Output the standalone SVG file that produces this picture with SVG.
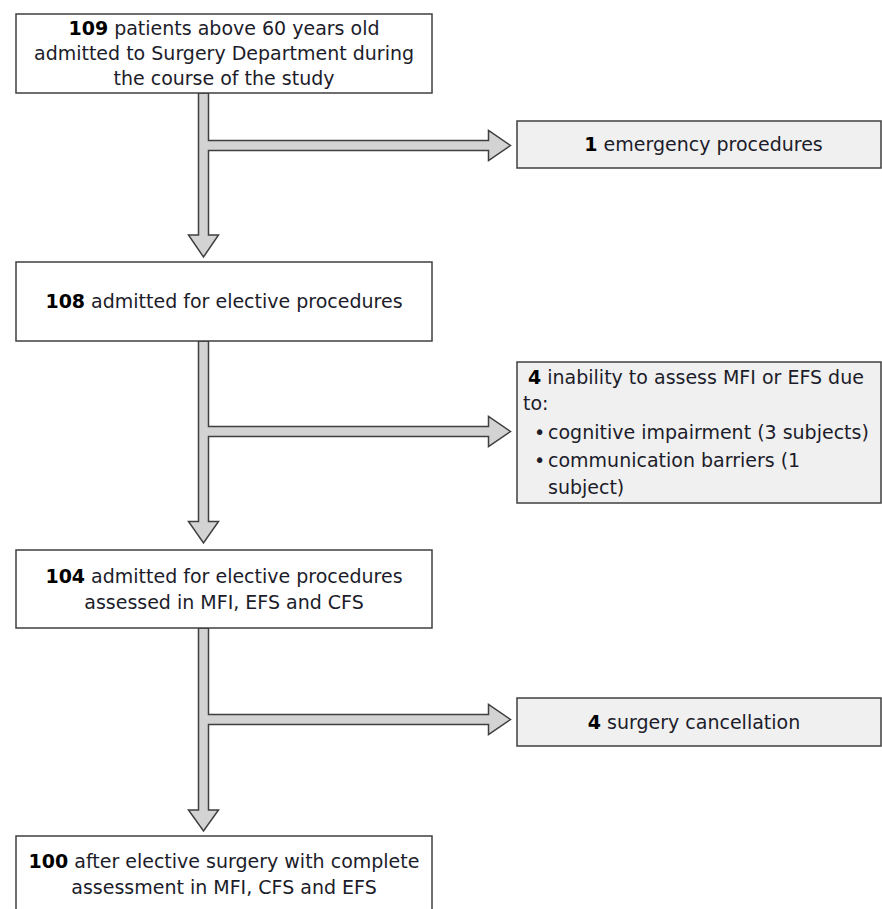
<svg xmlns="http://www.w3.org/2000/svg" width="882" height="909" viewBox="0 0 882 909">
<style>
.box{fill:#ffffff;stroke:#3f3f3f;stroke-width:1.5}
.side{fill:#f0f0f0;stroke:#3f3f3f;stroke-width:1.5}
.arrow{fill:#d3d3d3;stroke:#3f3f3f;stroke-width:1.5;stroke-linejoin:miter}
text{font-family:"DejaVu Sans","Liberation Sans",sans-serif;font-size:19px;fill:#1c1c2a}
.c{text-anchor:middle}
.b{font-weight:bold;fill:#000}
</style>
<rect width="882" height="909" fill="#ffffff"/>
<g id="connectors">
<path class="arrow" d="M198.5,93 L198.5,235 L188.5,235 L203.5,257 L218.5,235 L208.5,235 L208.5,150.5 L488.5,150.5 L488.5,160.5 L510.5,145.5 L488.5,130.5 L488.5,140.5 L208.5,140.5 L208.5,93 Z"/>
<path class="arrow" d="M198.5,341 L198.5,521.5 L188.5,521.5 L203.5,543 L218.5,521.5 L208.5,521.5 L208.5,436.5 L488.5,436.5 L488.5,446.5 L510.5,431.5 L488.5,416.5 L488.5,426.5 L208.5,426.5 L208.5,341 Z"/>
<path class="arrow" d="M198.5,628 L198.5,810 L188.5,810 L203.5,831 L218.5,810 L208.5,810 L208.5,724.5 L488.5,724.5 L488.5,734.5 L510.5,719.5 L488.5,704.5 L488.5,714.5 L208.5,714.5 L208.5,628 Z"/>
</g>
<g id="n109">
<rect class="box" x="16" y="14" width="416" height="79"/>
<text class="c" x="224" y="34.5"><tspan class="b">109</tspan> patients above 60 years old</text>
<text class="c" x="224" y="59.5">admitted to Surgery Department during</text>
<text class="c" x="224" y="84.5">the course of the study</text>
</g>
<g id="n1">
<rect class="side" x="517" y="121" width="364" height="47"/>
<text class="c" x="703.5" y="150.5"><tspan class="b">1</tspan> emergency procedures</text>
</g>
<g id="n108">
<rect class="box" x="16" y="262" width="416" height="79"/>
<text class="c" x="224" y="308"><tspan class="b">108</tspan> admitted for elective procedures</text>
</g>
<g id="n4a">
<rect class="side" x="517" y="362" width="364" height="141"/>
<text x="528" y="384"><tspan class="b">4</tspan> inability to assess MFI or EFS due</text>
<text x="523" y="410">to:</text>
<text x="534" y="439">•</text>
<text x="548" y="439">cognitive impairment (3 subjects)</text>
<text x="534" y="467">•</text>
<text x="548" y="467">communication barriers (1</text>
<text x="548" y="494">subject)</text>
</g>
<g id="n104">
<rect class="box" x="16" y="550" width="416" height="78"/>
<text class="c" x="224" y="583"><tspan class="b">104</tspan> admitted for elective procedures</text>
<text class="c" x="224" y="608.5">assessed in MFI, EFS and CFS</text>
</g>
<g id="n4b">
<rect class="side" x="517" y="698" width="364" height="48"/>
<text class="c" x="694" y="729"><tspan class="b">4</tspan> surgery cancellation</text>
</g>
<g id="n100">
<rect class="box" x="16" y="836" width="416" height="100"/>
<text class="c" x="224" y="868"><tspan class="b">100</tspan> after elective surgery with complete</text>
<text class="c" x="224" y="893.5">assessment in MFI, CFS and EFS</text>
</g>
</svg>
